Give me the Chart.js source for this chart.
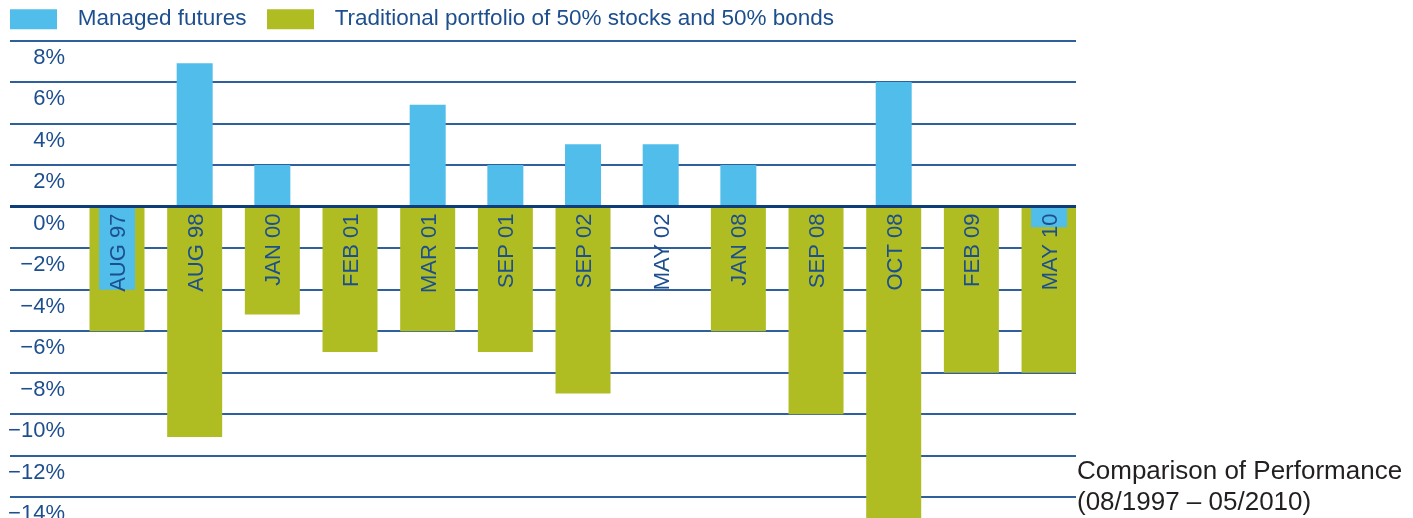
<!DOCTYPE html>
<html>
<head>
<meta charset="utf-8">
<script src="https://cdn.jsdelivr.net/npm/chart.js@4/dist/chart.umd.min.js"></script>
<style>
html,body{margin:0;padding:0;background:#fff;overflow:hidden}
#wrap{width:1413px;height:518px;position:relative}
</style>
</head>
<body>
<div id="wrap"><canvas id="c" width="1413" height="518"></canvas></div>
<script>
const categories = ['AUG 97','AUG 98','JAN 00','FEB 01','MAR 01','SEP 01','SEP 02','MAY 02','JAN 08','SEP 08','OCT 08','FEB 09','MAY 10'];
const seriesNames = ['Managed futures', 'Traditional portfolio of 50% stocks and 50% bonds'];
const managedFutures = [-4.0, 6.9, 2.0, null, 4.9, 2.0, 3.0, 3.0, 2.0, null, 6.0, null, -1.0];
const traditional = [-6.0, -11.1, -5.2, -7.0, -6.0, -7.0, -9.0, null, -6.0, -10.0, -15.5, -8.0, -8.0];
const yTicks = [8, 6, 4, 2, 0, -2, -4, -6, -8, -10, -12, -14];
const titleLines = ['Comparison of Performance', '(08/1997 \u2013 05/2010)'];

const FONT = '"Liberation Sans", Arial, sans-serif';
const TEXT_BLUE = '#1d4f8f';
const GRID = '#2f609b';
const ZERO = '#0e3d78';

const toPoints = arr => arr.map((v, i) => ({x: i, y: v}));

const catLabelPlugin = {
  id: 'catLabels',
  afterDatasetsDraw(chart) {
    const {ctx, scales: {x, y}} = chart;
    const y0 = y.getPixelForValue(0);
    ctx.save();
    ctx.font = '22px ' + FONT;
    ctx.fillStyle = TEXT_BLUE;
    ctx.textAlign = 'right';
    ctx.textBaseline = 'middle';
    categories.forEach((c, i) => {
      const px = x.getPixelForValue(i);
      ctx.save();
      ctx.translate(px + 2, y0 + 7);
      ctx.rotate(-Math.PI / 2);
      ctx.fillText(c, 0, 0);
      ctx.restore();
    });
    ctx.restore();
  }
};

const titlePlugin = {
  id: 'sideTitle',
  afterDraw(chart) {
    const {ctx} = chart;
    ctx.save();
    ctx.font = '26px ' + FONT;
    ctx.fillStyle = '#231f20';
    ctx.textAlign = 'left';
    ctx.textBaseline = 'alphabetic';
    ctx.fillText(titleLines[0], 1077, 479);
    ctx.fillText(titleLines[1], 1077, 510);
    ctx.restore();
  }
};

new Chart(document.getElementById('c'), {
  type: 'bar',
  data: {
    datasets: [
      {
        label: seriesNames[0],
        data: toPoints(managedFutures),
        backgroundColor: '#50bdeb',
        borderWidth: 0,
        grouped: false,
        categoryPercentage: 1,
        barPercentage: 0.95,
        maxBarThickness: 36
      },
      {
        label: seriesNames[1],
        data: toPoints(traditional),
        backgroundColor: '#afbd22',
        borderWidth: 0,
        grouped: false,
        categoryPercentage: 1,
        barPercentage: 0.95,
        maxBarThickness: 55
      }
    ]
  },
  options: {
    responsive: false,
    animation: false,
    devicePixelRatio: 1,
    layout: {padding: {left: 2, right: 337, top: 0, bottom: 0}},
    plugins: {
      tooltip: {enabled: false},
      legend: {
        position: 'top',
        align: 'start',
        labels: {
          boxWidth: 47,
          boxHeight: 20,
          padding: 8,
          color: TEXT_BLUE,
          font: {family: FONT, size: 22.5},
          generateLabels(chart) {
            const items = Chart.defaults.plugins.legend.labels.generateLabels(chart);
            return items.map((it, i) => Object.assign(it, {
              text: '\u2004\u200A' + it.text + (i === 0 ? '  ' : ''),
              lineWidth: 0
            }));
          }
        }
      }
    },
    scales: {
      x: {
        type: 'linear',
        display: false,
        offset: false,
        min: -0.6695,
        max: 12.347,
        afterBuildTicks: s => { s.ticks = categories.map((c, i) => ({value: i})); }
      },
      y: {
        position: 'left',
        weight: 1,
        min: -15,
        max: 8,
        afterBuildTicks: s => { s.ticks = yTicks.map(v => ({value: v})); },
        afterFit: s => { s.width = 63; s.paddingTop = 0; s.paddingBottom = 0; },
        border: {display: false},
        grid: {color: GRID, lineWidth: 2, drawTicks: true, tickLength: 55, tickColor: GRID, tickWidth: 2},
        ticks: {
          color: TEXT_BLUE,
          font: {family: FONT, size: 22},
          padding: -55,
          labelOffset: 17,
          crossAlign: 'near',
          autoSkip: false,
          callback: v => (v < 0 ? '\u2212' + Math.abs(v) : String(v)) + '%'
        }
      },
      yz: {
        position: 'left',
        weight: 0,
        min: -15,
        max: 8,
        afterBuildTicks: s => { s.ticks = [{value: 0}]; },
        afterFit: s => { s.width = 0; s.paddingTop = 0; s.paddingBottom = 0; },
        border: {display: false},
        grid: {color: ZERO, lineWidth: 3, drawTicks: true, tickLength: 55, tickColor: ZERO, tickWidth: 3, z: 1},
        ticks: {display: false}
      }
    }
  },
  plugins: [catLabelPlugin, titlePlugin]
});
</script>
</body>
</html>
